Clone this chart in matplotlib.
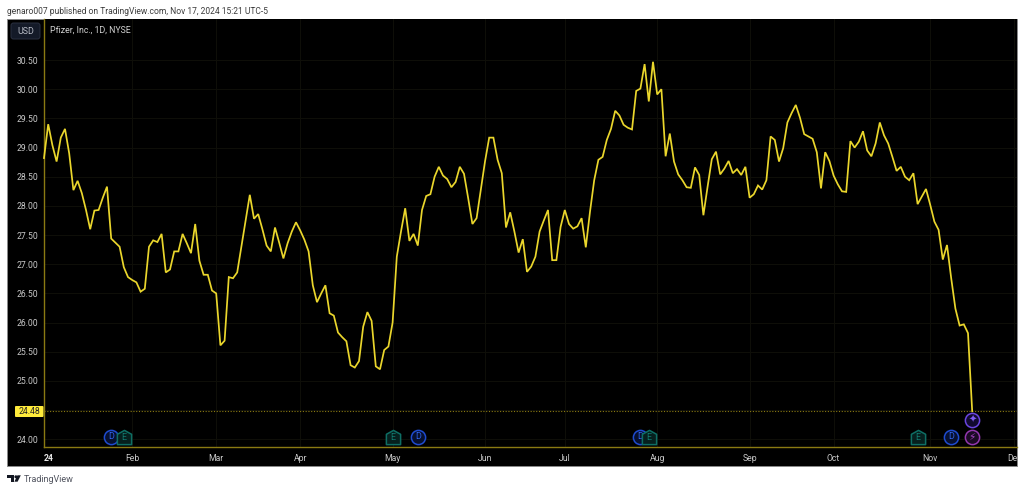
import matplotlib
matplotlib.use("Agg")
import matplotlib.pyplot as plt
import matplotlib.patches as mp
from matplotlib.path import Path
from matplotlib.ticker import FixedLocator
import numpy as np
import pandas as pd

plt.rcParams['font.family'] = ['Roboto', 'DejaVu Sans']

# ---- data ----
close_jan_feb = [28.82,29.40,29.04,28.76,29.17,29.32,28.90,28.27,28.43,28.22,27.93,27.60,27.92,27.93,28.14,28.33,
                 27.44,27.37,27.30,26.95,26.78,26.73,26.69,26.53,26.58,27.30,27.41,27.38,27.52,26.86,26.91,27.22,
                 27.22,27.52,27.36,27.19,27.69,27.06,26.82,26.82,26.55]
close_mar_apr = [26.50,25.61,25.69,26.78,26.76,26.86,27.30,27.73,28.19,27.78,27.86,27.60,27.32,27.22,27.63,27.37,
                 27.10,27.36,27.56,27.72,27.58,27.42,27.22,26.64,26.35,26.50,26.64,26.16,26.12,25.83,25.75,25.68,
                 25.27,25.23,25.34,25.93,26.18,26.03,25.25,25.20,25.53,25.59]
close_may_jun = [26.00,27.13,27.56,27.96,27.40,27.52,27.32,27.93,28.17,28.20,28.50,28.67,28.52,28.46,28.32,28.41,
                 28.67,28.55,28.13,27.69,27.79,28.27,28.76,29.17,29.17,28.79,28.56,27.63,27.89,27.56,27.20,27.43,
                 26.87,26.96,27.13,27.56,27.75,27.93,27.07,27.07,27.64]
close_jul_aug = [27.93,27.69,27.61,27.65,27.79,27.29,27.90,28.44,28.79,28.84,29.13,29.32,29.63,29.55,29.39,29.34,
                 29.31,29.97,30.01,30.43,29.79,30.47,29.91,30.00,28.85,29.24,28.76,28.54,28.44,28.32,28.31,28.66,
                 28.53,27.84,28.33,28.80,28.93,28.54,28.64,28.77,28.56,28.63,28.53,28.67]
close_sep_oct = [28.14,28.20,28.35,28.28,28.44,29.19,29.13,28.76,28.99,29.43,29.59,29.73,29.51,29.23,29.19,29.15,
                 28.92,28.30,28.92,28.77,28.52,28.37,28.25,28.24,29.11,29.00,29.10,29.28,28.95,28.85,29.07,29.43,
                 29.21,29.07,28.84,28.60,28.67,28.50,28.44,28.56,28.03,28.16,28.29]
close_nov = [28.02,27.73,27.59,27.08,27.33,26.76,26.24,25.95,25.97,25.82,24.48]
last_price = 24.48
price_ticks = [24.0,25.0,25.5,26.0,26.5,27.0,27.5,28.0,28.5,29.0,29.5,30.0,30.5]
market_holidays = ['2024-01-15','2024-02-19','2024-03-29','2024-05-27','2024-06-19','2024-07-04','2024-09-02','2024-11-28','2024-12-25']
dividend_dates = ['2024-01-25','2024-05-09','2024-07-26','2024-11-08']
earnings_dates = ['2024-01-30','2024-05-01','2024-07-30','2024-10-29']
news_date = '2024-11-15'
title_text = "genaro007 published on TradingView.com, Nov 17, 2024 15:21 UTC-5"
legend_text = "Pfizer, Inc., 1D, NYSE"

close = close_jan_feb + close_mar_apr + close_may_jun + close_jul_aug + close_sep_oct + close_nov

# trading calendar gives the bar index of every date
sessions = pd.bdate_range('2024-01-02', '2024-12-31').difference(pd.to_datetime(market_holidays))
pos = {d: i for i, d in enumerate(sessions)}
month_first = pd.Series(range(len(sessions)), index=sessions).groupby(sessions.month).first()
month_labels = ['24'] + [sessions[i].strftime('%b') for i in month_first.values[1:]]

W, H = 1024, 491
fig = plt.figure(figsize=(W/100, H/100), dpi=100, facecolor='white')

# backdrop panel
bg = fig.add_axes([0, 0, 1, 1], zorder=0)
bg.set_xlim(0, W); bg.set_ylim(H, 0); bg.axis('off')
panel = mp.Rectangle((7, 19), 1010, 447, facecolor='black', edgecolor='#8a8a8a', linewidth=0.7)
bg.add_patch(panel)

# chart
L, R, T, B = 44, 1017, 19, 447
BAR = 4.2
PX_PER_UNIT = 58.35
ax = fig.add_axes([L/W, 1-B/H, (R-L)/W, (B-T)/H], zorder=1, facecolor='black')
ax.set_xlim(0, (R-L)/BAR)
ax.set_ylim(24-(B-439.3)/PX_PER_UNIT, 24+(439.3-T)/PX_PER_UNIT)
for s in ['top', 'right']:
    ax.spines[s].set_visible(False)
for s in ['left', 'bottom']:
    ax.spines[s].set_color('#8a7a12'); ax.spines[s].set_linewidth(1.0)
ax.set_xticks(month_first.values)
ax.set_xticklabels(month_labels)
ax.set_yticks(price_ticks)
ax.set_yticklabels([f'{p:.2f}' for p in price_ticks])
ax.yaxis.set_minor_locator(FixedLocator([24.5]))
ax.tick_params(axis='both', which='major', length=0, colors='#c9c9c9', labelsize=6.2)
ax.tick_params(axis='both', which='minor', length=0)
ax.tick_params(axis='x', pad=5.0)
ax.tick_params(axis='y', pad=4.2)
ax.grid(True, which='both', color='#0e0e08', linewidth=0.8)
ax.set_axisbelow(True)
clip_rect = mp.Rectangle((7, 19), 1010, 447, transform=bg.transData)
for i, lab in enumerate(ax.get_xticklabels()):
    lab.set_clip_path(clip_rect)
    lab.set_clip_on(True)
first = ax.get_xticklabels()[0]
first.set_fontweight('bold'); first.set_color('#e8e8e8'); first.set_ha('left')

ax.plot(range(len(close)), close, color='#EAD62C', linewidth=1.25, solid_joinstyle='miter', clip_on=False, zorder=3)
ax.axhline(last_price, color='#8a7a12', linewidth=0.8, linestyle=(0, (1, 1.5)), zorder=2)

# event markers
def idx(d):
    return pos[pd.Timestamp(d)]
ROW1, ROW2 = 24.04, 24.33
house = Path([(-1, -1), (1, -1), (1, 0.45), (0, 1), (-1, 0.45), (-1, -1)],
             [Path.MOVETO] + [Path.LINETO]*4 + [Path.CLOSEPOLY])
for d in dividend_dates:
    ax.scatter(idx(d), ROW1, s=105, marker='o', facecolor='#071030', edgecolor='#1E4BD0', linewidth=1.1, zorder=4)
    ax.text(idx(d), ROW1, 'D', color='#2F62E8', fontsize=6.4, ha='center', va='center', zorder=4.1)
for d in earnings_dates:
    ax.scatter(idx(d), ROW1, s=105, marker=house, facecolor='#06201E', edgecolor='#0E6E64', linewidth=1.1, zorder=5)
    ax.text(idx(d), ROW1-0.01, 'E', color='#11796E', fontsize=6.4, ha='center', va='center', zorder=5.1)
ax.scatter(idx(news_date), ROW1, s=105, marker='o', facecolor='#1B0A24', edgecolor='#9337AE', linewidth=1.1, zorder=4)
ax.text(idx(news_date), ROW1, '\u26a1', color='#A744C4', fontsize=7.5, ha='center', va='center', family='DejaVu Sans', zorder=4.1)
ax.scatter(idx(news_date), ROW2, s=105, marker='o', facecolor='#120A30', edgecolor='#6A45E0', linewidth=1.1, zorder=4)
ax.text(idx(news_date), ROW2, '\u2726', color='#7F5CF5', fontsize=7, ha='center', va='center', family='DejaVu Sans', zorder=4.1)

# overlay: header, badges, logo
ov = fig.add_axes([0, 0, 1, 1], zorder=2)
ov.set_xlim(0, W); ov.set_ylim(H, 0); ov.axis('off'); ov.patch.set_alpha(0)
ov.text(7, 11, title_text, color='#3c3c3c', fontsize=6.13, ha='left', va='center')
ov.text(50, 30.5, legend_text, color='#d0d0d0', fontsize=6.3, ha='left', va='center')
ov.add_patch(mp.FancyBboxPatch((11, 23), 29, 16, boxstyle='round,pad=0,rounding_size=2.5',
                               facecolor='#141a28', edgecolor='#2a3040', linewidth=0.7))
ov.text(25.5, 31, 'USD', color='#b8bcc6', fontsize=6.4, ha='center', va='center')
ov.add_patch(mp.FancyBboxPatch((15, 406), 28.5, 11, boxstyle='round,pad=0,rounding_size=1',
                               facecolor='#FFEB3B', edgecolor='none'))
ov.text(29, 411.7, f'{last_price:.2f}', color='#222222', fontsize=6.2, ha='center', va='center')
ov.add_patch(mp.Polygon([(7.3, 475.3), (14, 475.3), (14, 481.7), (10.8, 481.7), (10.8, 478.4), (7.3, 478.4)],
                        closed=True, facecolor='#131722', edgecolor='none'))
ov.add_patch(mp.Circle((15.9, 476.8), 1.5, facecolor='#131722', edgecolor='none'))
ov.add_patch(mp.Polygon([(17.4, 475.3), (20.8, 475.3), (17.6, 481.7), (14.4, 481.7)],
                        closed=True, facecolor='#131722', edgecolor='none'))
ov.text(24, 479.3, 'TradingView', color='#50535e', fontsize=6.5, ha='left', va='center')

fig.savefig('out.png', dpi=100, facecolor='white')
